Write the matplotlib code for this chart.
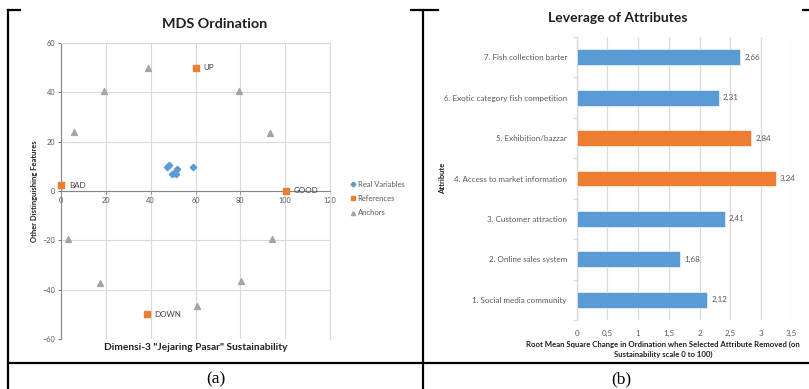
import matplotlib
matplotlib.use("Agg")
import matplotlib.pyplot as plt
from matplotlib.lines import Line2D
from matplotlib.ticker import FuncFormatter

plt.rcParams['font.family'] = ['Lato', 'DejaVu Sans']

# MDS ordination points
real_x = [47.1, 48.2, 49.4, 51.6, 51.3, 50.2, 58.7]
real_y = [9.9, 10.5, 6.9, 8.9, 6.9, 7.2, 9.9]
ref_names = ['BAD', 'GOOD', 'UP', 'DOWN']
ref_x = [0.0, 100.2, 60.0, 38.2]
ref_y = [2.4, 0.1, 50.0, -50.0]
anchor_x = [5.8, 19.0, 38.7, 79.5, 93.2, 3.3, 17.4, 60.5, 80.3, 94.0]
anchor_y = [23.8, 40.7, 49.9, 40.7, 23.5, -19.6, -37.3, -46.6, -36.4, -19.3]

# Leverage of attributes (RMS change)
attributes = ['1. Social media community', '2. Online sales system', '3. Customer attraction',
              '4. Access to market information', '5. Exhibition/bazzar',
              '6. Exotic category fish competition', '7. Fish collection barter']
leverage = [2.12, 1.68, 2.41, 3.24, 2.84, 2.31, 2.66]
highlight = [False, False, False, True, True, False, False]

BLUE = '#5b9bd5'
ORANGE = '#ed7d31'
GRAY = '#a5a5a5'
GRID = '#d9d9d9'
TXT = '#595959'
DARK = '#1f1f1f'

W, H = 809, 389
fig = plt.figure(figsize=(W / 100, H / 100), dpi=100)


def px_axes(x0, y0, x1, y1):
    return fig.add_axes([x0 / W, 1 - y1 / H, (x1 - x0) / W, (y1 - y0) / H])


# frame lines of the surrounding table
frame = fig.add_axes([0, 0, 1, 1])
frame.set_xlim(0, W)
frame.set_ylim(H, 0)
frame.axis('off')
lw = 1.6
frame.plot([8, 8], [9.5, H], color='black', lw=lw)
frame.plot([8, 20], [9.5, 9.5], color='black', lw=lw)
frame.plot([423.3, 423.3], [9.5, H], color='black', lw=lw)
frame.plot([411, 438], [9.5, 9.5], color='black', lw=lw)
frame.plot([803, 809], [9.5, 9.5], color='black', lw=lw)
frame.plot([8, 808], [362.7, 362.7], color='black', lw=lw)
frame.text(216, 379, '(a)', ha='center', va='center', fontsize=12.5,
           family='Liberation Serif')
frame.text(621, 379, '(b)', ha='center', va='center', fontsize=12.5,
           family='Liberation Serif')

# ---- (a) MDS ordination ----
ax = px_axes(61, 43, 330, 339)
ax.set_xlim(0, 120)
ax.set_ylim(-60, 60)
ax.set_xticks(range(0, 121, 20))
ax.set_yticks(range(-60, 61, 20))
ax.grid(True, color=GRID, lw=0.8)
ax.set_axisbelow(True)
for s in ['top', 'right']:
    ax.spines[s].set_color(GRID)
    ax.spines[s].set_linewidth(0.8)
ax.spines['bottom'].set_position(('data', 0))
ax.spines['left'].set_position(('data', 0))
for s in ['bottom', 'left']:
    ax.spines[s].set_color('#868686')
    ax.spines[s].set_linewidth(0.8)
ax.tick_params(labelsize=5.3, colors=TXT, length=2, width=0.6, pad=2)
ax.tick_params(axis='x', color='#868686')

ax.scatter(anchor_x, anchor_y, marker='^', s=18, color=GRAY, zorder=3, clip_on=False)
ax.scatter(real_x, real_y, marker='D', s=10, color=BLUE, zorder=3)
ax.scatter(ref_x, ref_y, marker='s', s=16, color=ORANGE, zorder=3, clip_on=False)
for name, x, y in zip(ref_names, ref_x, ref_y):
    ax.text(x + 3.5, y, name, fontsize=5.8, color='#404040', va='center', ha='left')

fig.text(215 / W, 1 - 24 / H, 'MDS Ordination', ha='center', va='center',
         fontsize=10.4, fontweight='bold', color=DARK)
fig.text(196 / W, 1 - 347 / H, 'Dimensi-3 "Jejaring Pasar" Sustainability',
         ha='center', va='center', fontsize=7.3, fontweight='bold', color=DARK)
fig.text(35 / W, 1 - 191 / H, 'Other Distinguishing Features', ha='center',
         va='center', rotation=90, fontsize=5.5, fontweight='bold', color=DARK)

handles = [
    Line2D([], [], marker='D', ls='', color=BLUE, markersize=2.5),
    Line2D([], [], marker='s', ls='', color=ORANGE, markersize=3.5),
    Line2D([], [], marker='^', ls='', color=GRAY, markersize=3),
]
leg = fig.legend(handles, ['Real Variables', 'References', 'Anchors'],
                 loc='center left', bbox_to_anchor=(347 / W, 1 - 198.5 / H),
                 frameon=False, fontsize=5.5, handlelength=0.6, handletextpad=0.3,
                 labelspacing=0.95, borderpad=0)
for t in leg.get_texts():
    t.set_color(TXT)

# ---- (b) leverage of attributes ----
bx = px_axes(576.7, 37, 791.7, 320)
ypos = range(len(attributes))
colors = [ORANGE if h else BLUE for h in highlight]
bars = bx.barh(ypos, leverage, height=0.39, color=colors, edgecolor='white',
               linewidth=0.4, zorder=3)
bx.set_xlim(0, 3.5)
bx.set_ylim(-0.5, len(attributes) - 0.5)
bx.set_xticks([i * 0.5 for i in range(8)])
bx.xaxis.set_major_formatter(FuncFormatter(lambda v, p: f'{v:g}'.replace('.', ',')))
bx.set_yticks(list(ypos))
bx.set_yticklabels(attributes)
bx.set_yticks([i - 0.5 for i in range(len(attributes) + 1)], minor=True)
bx.grid(True, axis='x', color=GRID, lw=0.9)
bx.set_axisbelow(True)
for s in ['top', 'right', 'bottom']:
    bx.spines[s].set_visible(False)
bx.spines['left'].set_color(GRID)
bx.spines['left'].set_linewidth(0.9)
bx.tick_params(axis='y', which='major', length=0, labelsize=5.8, colors=TXT, pad=7)
bx.tick_params(axis='y', which='minor', length=3, color=GRID, width=0.9)
bx.tick_params(axis='x', length=0, labelsize=5.8, colors=TXT, pad=7)
for bar, v in zip(bars, leverage):
    bx.text(v + 0.07, bar.get_y() + bar.get_height() / 2, f'{v:.2f}'.replace('.', ','),
            fontsize=5.8, color=TXT, va='center', ha='left')

fig.text(618 / W, 1 - 18 / H, 'Leverage of Attributes', ha='center', va='center',
         fontsize=10, fontweight='bold', color=DARK)
fig.text(663 / W, 1 - 349 / H,
         'Root Mean Square Change in Ordination when Selected Attribute Removed (on\n'
         'Sustainability scale 0 to 100)', ha='center', va='center', fontsize=5.6,
         fontweight='bold', color=DARK, linespacing=1.45)
fig.text(443 / W, 1 - 178 / H, 'Attribute', ha='center', va='center', rotation=90,
         fontsize=5.4, fontweight='bold', color=DARK)

fig.savefig('out.png', dpi=100)
